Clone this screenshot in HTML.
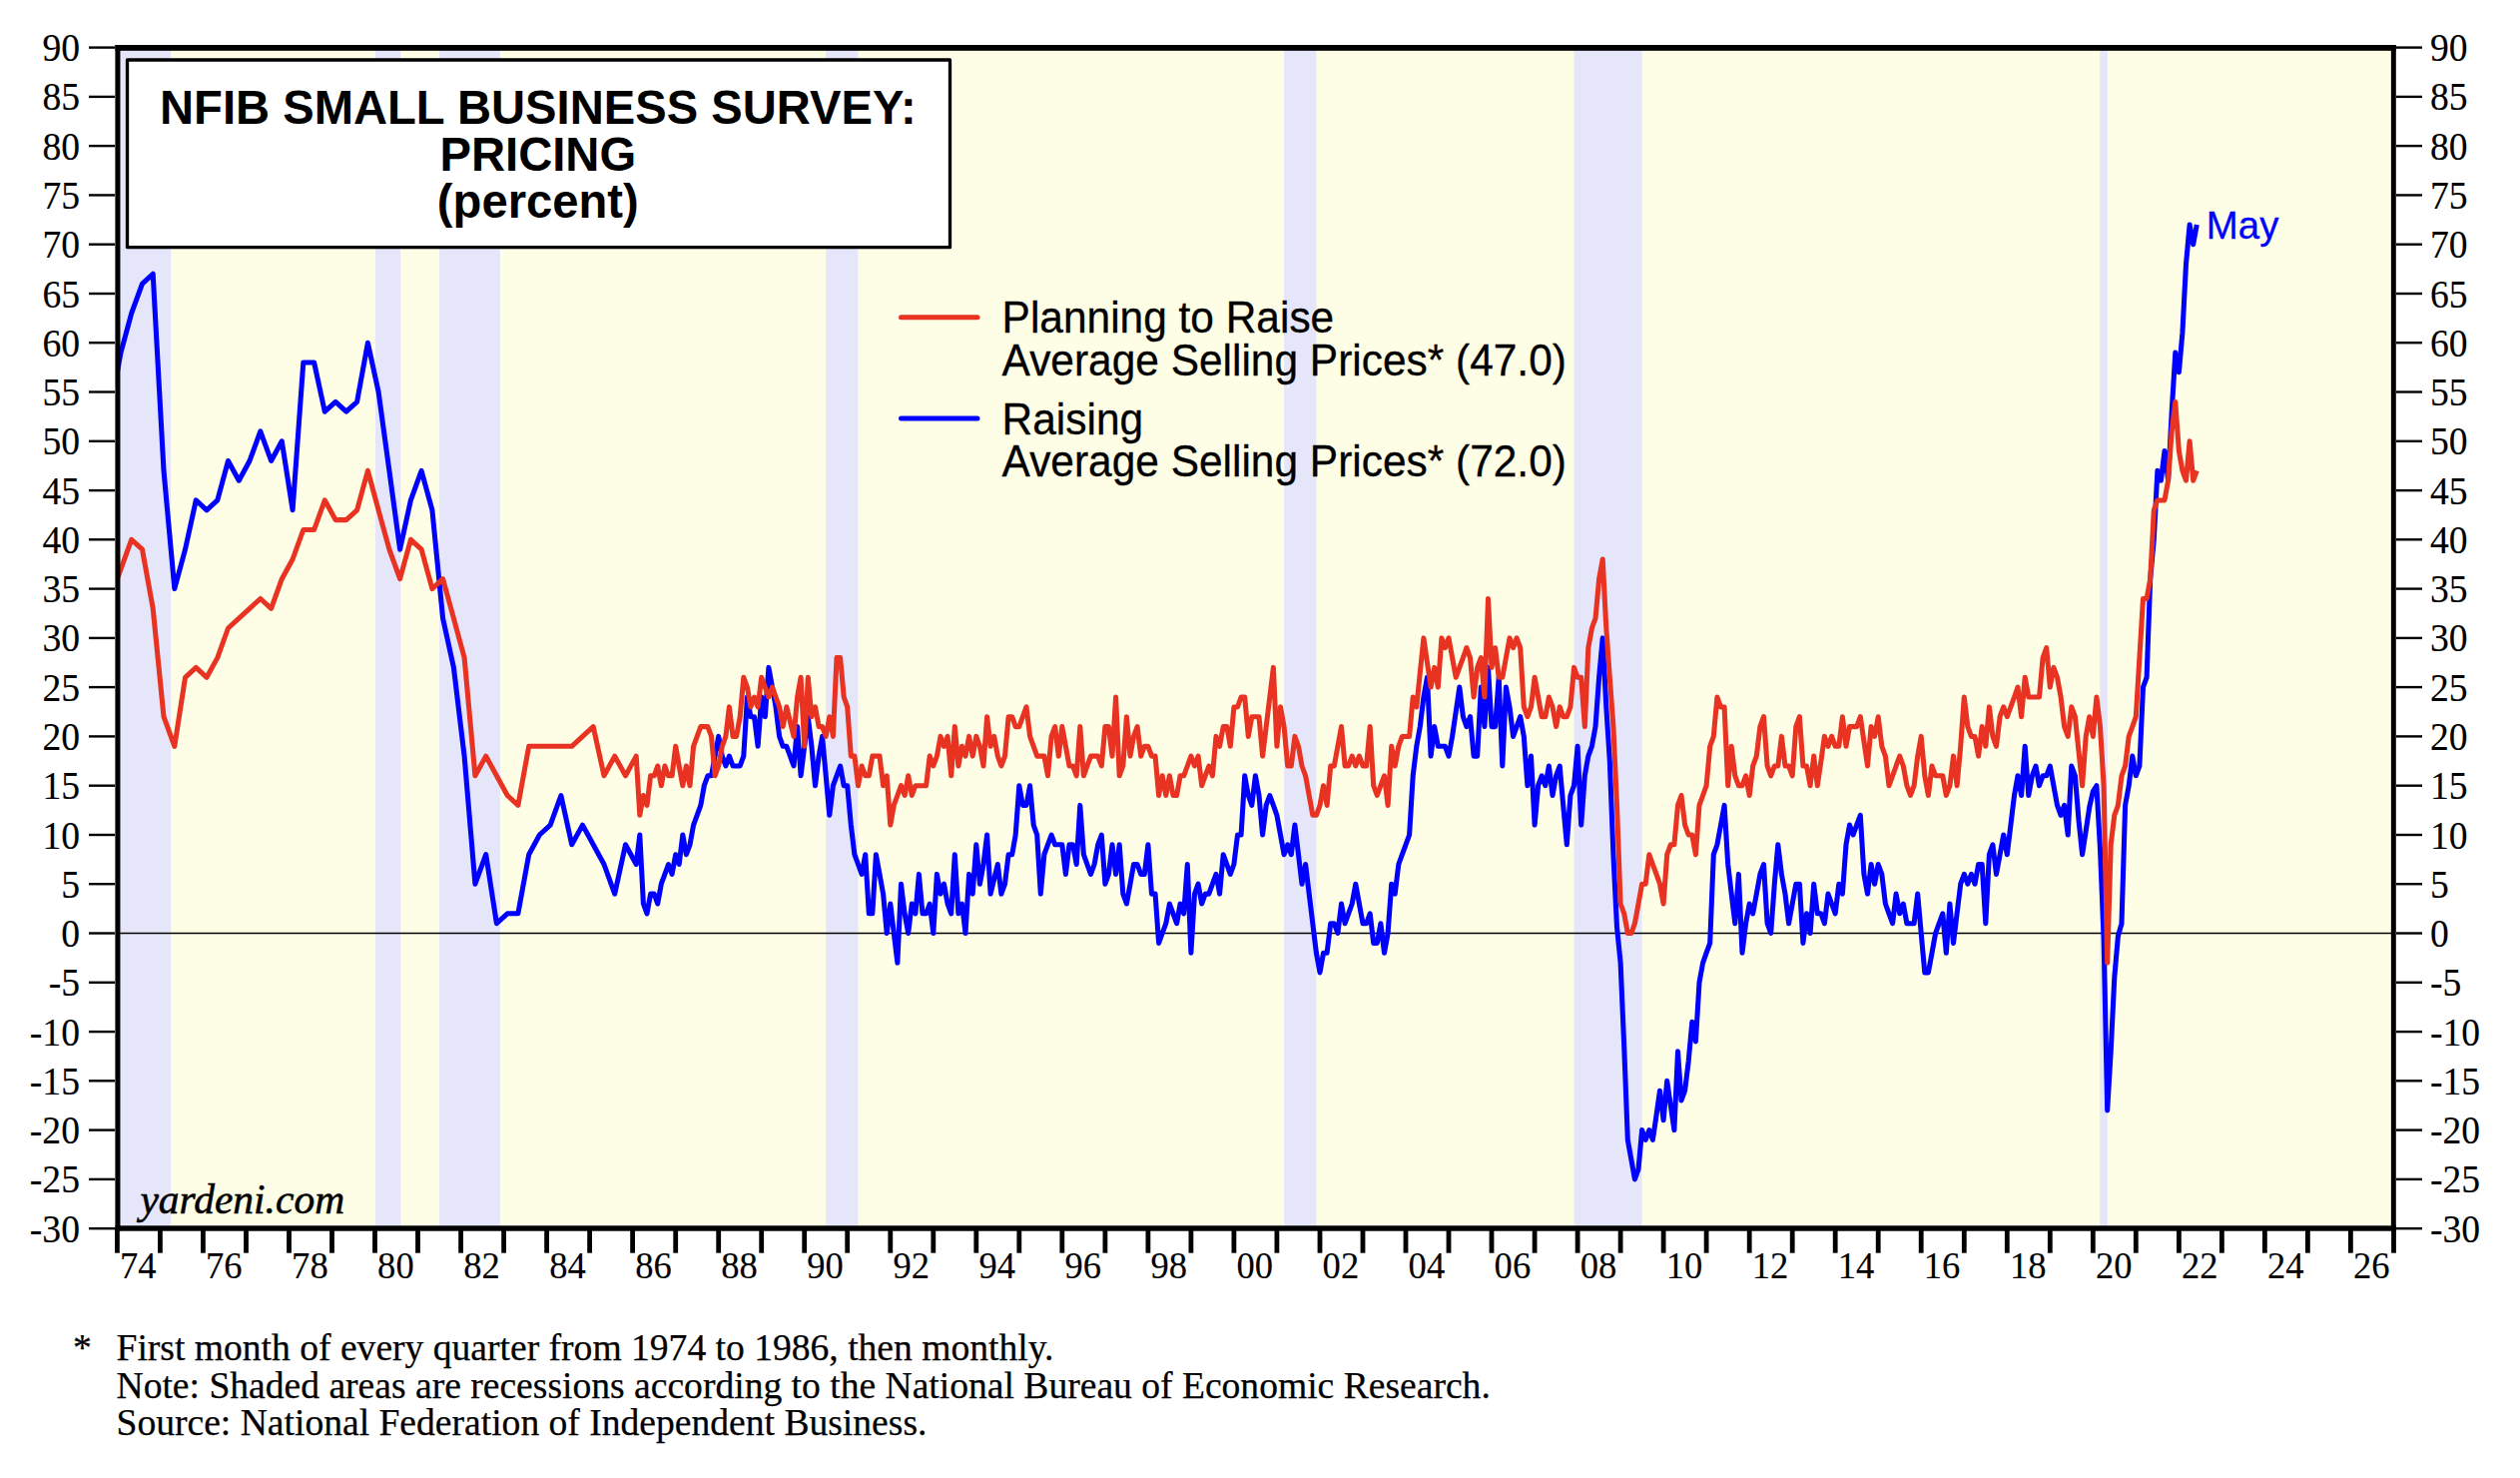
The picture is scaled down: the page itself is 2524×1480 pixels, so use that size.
<!DOCTYPE html>
<html><head><meta charset="utf-8"><title>NFIB Small Business Survey: Pricing</title>
<style>html,body{margin:0;padding:0;background:#fff}svg{display:block}.ser{font-family:"Liberation Serif",serif;fill:#000}.san{font-family:"Liberation Sans",sans-serif;fill:#000}.sk{stroke:#000;stroke-width:0.25}.sk0{stroke:#000;stroke-width:0.12}.sk2{stroke:#000;stroke-width:0.3}</style></head><body>
<svg width="2524" height="1480" viewBox="0 0 2524 1480">
<rect x="0" y="0" width="2524" height="1480" fill="#fff"/>
<rect x="117.8" y="47.9" width="2279.6" height="1182.2" fill="#FEFEE6"/>
<rect x="117.8" y="47.9" width="53.4" height="1182.2" fill="#E6E6FA"/>
<rect x="376.0" y="47.9" width="25.2" height="1182.2" fill="#E6E6FA"/>
<rect x="440.1" y="47.9" width="60.9" height="1182.2" fill="#E6E6FA"/>
<rect x="827.2" y="47.9" width="32.3" height="1182.2" fill="#E6E6FA"/>
<rect x="1286.1" y="47.9" width="32.3" height="1182.2" fill="#E6E6FA"/>
<rect x="1576.5" y="47.9" width="68.1" height="1182.2" fill="#E6E6FA"/>
<rect x="2103.2" y="47.9" width="7.7" height="1182.2" fill="#E6E6FA"/>
<line x1="117.8" y1="934.5" x2="2397.3" y2="934.5" stroke="#000" stroke-width="1.3"/>
<clipPath id="cp"><rect x="117.4" y="50.8" width="2277.5" height="1176.5"/></clipPath>
<g clip-path="url(#cp)" fill="none" stroke-width="5.05" stroke-linejoin="round" stroke-linecap="butt">
<polyline stroke="#0000FF" points="110.2,412.2 121.0,353.1 131.7,313.7 142.5,284.1 153.2,274.3 164.0,471.3 174.8,589.6 185.5,550.2 196.3,500.9 207.0,510.8 217.8,500.9 228.5,461.5 239.3,481.2 250.0,461.5 260.8,431.9 271.6,461.5 282.3,441.8 293.1,510.8 303.8,362.9 314.6,362.9 325.3,412.2 336.1,402.4 346.8,412.2 357.6,402.4 368.4,343.2 379.1,392.5 389.9,471.3 400.6,550.2 411.4,500.9 422.1,471.3 432.9,510.8 443.6,619.2 454.4,668.4 465.1,757.1 475.9,885.2 486.7,855.7 497.4,924.7 508.2,914.8 518.9,914.8 529.7,855.7 540.4,836.0 551.2,826.1 561.9,796.5 572.7,845.8 583.5,826.1 594.2,845.8 605.0,865.5 615.7,895.1 626.5,845.8 637.2,865.5 640.8,836.0 644.4,905.0 648.0,914.8 651.6,895.1 655.2,895.1 658.7,905.0 662.3,885.2 665.9,875.4 669.5,865.5 673.1,875.4 676.7,855.7 680.2,865.5 683.8,836.0 687.4,855.7 691.0,845.8 694.6,826.1 698.2,816.3 701.8,806.4 705.3,786.7 708.9,776.8 712.5,776.8 716.1,757.1 719.7,737.4 723.3,757.1 726.9,767.0 730.4,757.1 734.0,767.0 737.6,767.0 741.2,767.0 744.8,757.1 748.4,698.0 751.9,717.7 755.5,717.7 759.1,747.3 762.7,698.0 766.3,717.7 769.9,668.4 773.5,688.1 777.0,707.9 780.6,737.4 784.2,747.3 787.8,747.3 791.4,757.1 795.0,767.0 798.6,727.6 802.1,776.8 805.7,747.3 809.3,717.7 812.9,747.3 816.5,786.7 820.1,757.1 823.6,737.4 827.2,776.8 830.8,816.3 834.4,786.7 838.0,776.8 841.6,767.0 845.2,786.7 848.7,786.7 852.3,826.1 855.9,855.7 859.5,865.5 863.1,875.4 866.7,855.7 870.3,914.8 873.8,914.8 877.4,855.7 881.0,875.4 884.6,895.1 888.2,934.5 891.8,905.0 895.3,934.5 898.9,964.1 902.5,885.2 906.1,914.8 909.7,934.5 913.3,905.0 916.9,914.8 920.4,875.4 924.0,914.8 927.6,914.8 931.2,905.0 934.8,934.5 938.4,875.4 942.0,895.1 945.5,885.2 949.1,905.0 952.7,914.8 956.3,855.7 959.9,914.8 963.5,905.0 967.0,934.5 970.6,875.4 974.2,895.1 977.8,845.8 981.4,885.2 985.0,865.5 988.6,836.0 992.1,895.1 995.7,880.3 999.3,865.5 1002.9,895.1 1006.5,885.2 1010.1,855.7 1013.7,855.7 1017.2,836.0 1020.8,786.7 1024.4,806.4 1028.0,806.4 1031.6,786.7 1035.2,826.1 1038.7,836.0 1042.3,895.1 1045.9,855.7 1049.5,845.8 1053.1,836.0 1056.7,845.8 1060.3,845.8 1063.8,845.8 1067.4,875.4 1071.0,845.8 1074.6,845.8 1078.2,865.5 1081.8,806.4 1085.4,855.7 1088.9,865.5 1092.5,875.4 1096.1,865.5 1099.7,845.8 1103.3,836.0 1106.9,885.2 1110.4,875.4 1114.0,845.8 1117.6,875.4 1121.2,845.8 1124.8,895.1 1128.4,905.0 1132.0,885.2 1135.5,865.5 1139.1,865.5 1142.7,875.4 1146.3,875.4 1149.9,845.8 1153.5,895.1 1157.1,895.1 1160.6,944.4 1164.2,934.5 1167.8,924.7 1171.4,905.0 1175.0,914.8 1178.6,924.7 1182.1,905.0 1185.7,914.8 1189.3,865.5 1192.9,954.2 1196.5,895.1 1200.1,885.2 1203.7,905.0 1207.2,895.1 1210.8,895.1 1214.4,885.2 1218.0,875.4 1221.6,895.1 1225.2,855.7 1228.8,865.5 1232.3,875.4 1235.9,865.5 1239.5,836.0 1243.1,836.0 1246.7,776.8 1250.3,796.5 1253.8,806.4 1257.4,776.8 1261.0,796.5 1264.6,836.0 1268.2,806.4 1271.8,796.5 1275.4,806.4 1278.9,816.3 1282.5,836.0 1286.1,855.7 1289.7,845.8 1293.3,855.7 1296.9,826.1 1300.5,855.7 1304.0,885.2 1307.6,865.5 1311.2,895.1 1314.8,924.7 1318.4,954.2 1322.0,973.9 1325.5,954.2 1329.1,954.2 1332.7,924.7 1336.3,924.7 1339.9,934.5 1343.5,905.0 1347.1,924.7 1350.6,914.8 1354.2,905.0 1357.8,885.2 1361.4,905.0 1365.0,924.7 1368.6,924.7 1372.2,914.8 1375.7,944.4 1379.3,944.4 1382.9,924.7 1386.5,954.2 1390.1,934.5 1393.7,885.2 1397.2,895.1 1400.8,865.5 1404.4,855.7 1408.0,845.8 1411.6,836.0 1415.2,776.8 1418.8,747.3 1422.3,727.6 1425.9,698.0 1429.5,678.3 1433.1,757.1 1436.7,727.6 1440.3,747.3 1443.9,747.3 1447.4,747.3 1451.0,757.1 1454.6,737.4 1458.2,712.8 1461.8,688.1 1465.4,717.7 1468.9,727.6 1472.5,717.7 1476.1,757.1 1479.7,757.1 1483.3,688.1 1486.9,727.6 1490.5,668.4 1494.0,727.6 1497.6,727.6 1501.2,678.3 1504.8,767.0 1508.4,688.1 1512.0,707.9 1515.6,737.4 1519.1,727.6 1522.7,717.7 1526.3,737.4 1529.9,786.7 1533.5,757.1 1537.1,826.1 1540.6,786.7 1544.2,776.8 1547.8,786.7 1551.4,767.0 1555.0,796.5 1558.6,776.8 1562.2,767.0 1565.7,806.4 1569.3,845.8 1572.9,796.5 1576.5,786.7 1580.1,747.3 1583.7,826.1 1587.3,776.8 1590.8,757.1 1594.4,747.3 1598.0,727.6 1601.6,678.3 1605.2,638.9 1608.8,707.9 1612.3,762.1 1615.9,855.7 1619.5,928.6 1623.1,964.1 1626.7,1047.8 1630.3,1141.5 1633.9,1161.2 1637.4,1180.9 1641.0,1171.0 1644.6,1131.6 1648.2,1141.5 1651.8,1131.6 1655.4,1141.5 1659.0,1116.8 1662.5,1092.2 1666.1,1121.8 1669.7,1082.3 1673.3,1107.0 1676.9,1131.6 1680.5,1052.8 1684.0,1102.0 1687.6,1092.2 1691.2,1062.6 1694.8,1023.2 1698.4,1042.9 1702.0,983.8 1705.6,964.1 1709.1,954.2 1712.7,944.4 1716.3,855.7 1719.9,845.8 1723.5,826.1 1727.1,806.4 1730.7,865.5 1734.2,895.1 1737.8,924.7 1741.4,875.4 1745.0,954.2 1748.6,924.7 1752.2,905.0 1755.7,914.8 1759.3,895.1 1762.9,875.4 1766.5,865.5 1770.1,924.7 1773.7,934.5 1777.3,885.2 1780.8,845.8 1784.4,875.4 1788.0,895.1 1791.6,924.7 1795.2,905.0 1798.8,885.2 1802.4,885.2 1805.9,944.4 1809.5,914.8 1813.1,934.5 1816.7,885.2 1820.3,914.8 1823.9,914.8 1827.4,924.7 1831.0,895.1 1834.6,905.0 1838.2,914.8 1841.8,885.2 1845.4,895.1 1849.0,845.8 1852.5,826.1 1856.1,836.0 1859.7,826.1 1863.3,816.3 1866.9,875.4 1870.5,895.1 1874.1,865.5 1877.6,885.2 1881.2,865.5 1884.8,875.4 1888.4,905.0 1892.0,914.8 1895.6,924.7 1899.1,895.1 1902.7,914.8 1906.3,905.0 1909.9,924.7 1913.5,924.7 1917.1,924.7 1920.7,895.1 1924.2,934.5 1927.8,973.9 1931.4,973.9 1935.0,954.2 1938.6,934.5 1942.2,924.7 1945.8,914.8 1949.3,954.2 1952.9,905.0 1956.5,944.4 1960.1,914.8 1963.7,885.2 1967.3,875.4 1970.8,885.2 1974.4,875.4 1978.0,885.2 1981.6,865.5 1985.2,865.5 1988.8,924.7 1992.4,855.7 1995.9,845.8 1999.5,875.4 2003.1,855.7 2006.7,836.0 2010.3,855.7 2013.9,826.1 2017.5,796.5 2021.0,776.8 2024.6,796.5 2028.2,747.3 2031.8,796.5 2035.4,776.8 2039.0,767.0 2042.5,786.7 2046.1,776.8 2049.7,776.8 2053.3,767.0 2056.9,786.7 2060.5,806.4 2064.1,816.3 2067.6,806.4 2071.2,836.0 2074.8,767.0 2078.4,776.8 2082.0,821.2 2085.6,855.7 2089.2,832.0 2092.7,808.4 2096.3,792.6 2099.9,786.7 2103.5,850.7 2107.1,939.4 2110.7,1111.9 2114.2,1052.8 2117.8,978.9 2121.4,937.5 2125.0,924.7 2128.6,806.4 2132.2,786.7 2135.8,757.1 2139.3,776.8 2142.9,767.0 2146.5,688.1 2150.1,678.3 2153.7,579.7 2157.3,540.3 2160.9,471.3 2164.4,481.2 2168.0,451.6 2171.6,481.2 2175.2,412.2 2178.8,353.1 2182.4,372.8 2185.9,333.4 2189.5,264.4 2193.1,225.0 2196.7,244.7 2200.3,225.0"/>
<polyline stroke="#E83323" points="110.2,599.5 121.0,569.9 131.7,540.3 142.5,550.2 153.2,609.3 164.0,717.7 174.8,747.3 185.5,678.3 196.3,668.4 207.0,678.3 217.8,658.6 228.5,629.0 239.3,619.2 250.0,609.3 260.8,599.5 271.6,609.3 282.3,579.7 293.1,560.0 303.8,530.5 314.6,530.5 325.3,500.9 336.1,520.6 346.8,520.6 357.6,510.8 368.4,471.3 379.1,510.8 389.9,550.2 400.6,579.7 411.4,540.3 422.1,550.2 432.9,589.6 443.6,579.7 454.4,619.2 465.1,658.6 475.9,776.8 486.7,757.1 497.4,776.8 508.2,796.5 518.9,806.4 529.7,747.3 540.4,747.3 551.2,747.3 561.9,747.3 572.7,747.3 583.5,737.4 594.2,727.6 605.0,776.8 615.7,757.1 626.5,776.8 637.2,757.1 640.8,816.3 644.4,796.5 648.0,806.4 651.6,776.8 655.2,776.8 658.7,767.0 662.3,786.7 665.9,767.0 669.5,776.8 673.1,776.8 676.7,747.3 680.2,767.0 683.8,786.7 687.4,767.0 691.0,786.7 694.6,747.3 698.2,737.4 701.8,727.6 705.3,727.6 708.9,727.6 712.5,737.4 716.1,776.8 719.7,767.0 723.3,747.3 726.9,737.4 730.4,707.9 734.0,737.4 737.6,737.4 741.2,717.7 744.8,678.3 748.4,688.1 751.9,707.9 755.5,698.0 759.1,707.9 762.7,678.3 766.3,688.1 769.9,698.0 773.5,688.1 777.0,698.0 780.6,707.9 784.2,727.6 787.8,707.9 791.4,722.6 795.0,737.4 798.6,698.0 802.1,678.3 805.7,747.3 809.3,678.3 812.9,717.7 816.5,707.9 820.1,727.6 823.6,727.6 827.2,737.4 830.8,717.7 834.4,737.4 838.0,658.6 841.6,658.6 845.2,698.0 848.7,707.9 852.3,757.1 855.9,757.1 859.5,786.7 863.1,767.0 866.7,776.8 870.3,776.8 873.8,757.1 877.4,757.1 881.0,757.1 884.6,786.7 888.2,776.8 891.8,826.1 895.3,806.4 898.9,796.5 902.5,786.7 906.1,796.5 909.7,776.8 913.3,796.5 916.9,786.7 920.4,786.7 924.0,786.7 927.6,786.7 931.2,757.1 934.8,767.0 938.4,757.1 942.0,737.4 945.5,747.3 949.1,737.4 952.7,776.8 956.3,727.6 959.9,767.0 963.5,747.3 967.0,757.1 970.6,737.4 974.2,757.1 977.8,737.4 981.4,747.3 985.0,767.0 988.6,717.7 992.1,747.3 995.7,737.4 999.3,757.1 1002.9,767.0 1006.5,757.1 1010.1,717.7 1013.7,717.7 1017.2,727.6 1020.8,727.6 1024.4,717.7 1028.0,707.9 1031.6,737.4 1035.2,747.3 1038.7,757.1 1042.3,757.1 1045.9,757.1 1049.5,776.8 1053.1,737.4 1056.7,727.6 1060.3,757.1 1063.8,727.6 1067.4,747.3 1071.0,767.0 1074.6,767.0 1078.2,776.8 1081.8,727.6 1085.4,776.8 1088.9,767.0 1092.5,757.1 1096.1,757.1 1099.7,757.1 1103.3,767.0 1106.9,727.6 1110.4,727.6 1114.0,757.1 1117.6,698.0 1121.2,776.8 1124.8,767.0 1128.4,717.7 1132.0,757.1 1135.5,737.4 1139.1,727.6 1142.7,757.1 1146.3,747.3 1149.9,747.3 1153.5,757.1 1157.1,757.1 1160.6,796.5 1164.2,776.8 1167.8,796.5 1171.4,776.8 1175.0,796.5 1178.6,796.5 1182.1,776.8 1185.7,776.8 1189.3,767.0 1192.9,757.1 1196.5,767.0 1200.1,757.1 1203.7,786.7 1207.2,776.8 1210.8,767.0 1214.4,776.8 1218.0,737.4 1221.6,747.3 1225.2,727.6 1228.8,727.6 1232.3,747.3 1235.9,707.9 1239.5,707.9 1243.1,698.0 1246.7,698.0 1250.3,737.4 1253.8,717.7 1257.4,717.7 1261.0,717.7 1264.6,757.1 1268.2,727.6 1271.8,698.0 1275.4,668.4 1278.9,747.3 1282.5,707.9 1286.1,727.6 1289.7,767.0 1293.3,767.0 1296.9,737.4 1300.5,747.3 1304.0,767.0 1307.6,776.8 1311.2,796.5 1314.8,816.3 1318.4,816.3 1322.0,806.4 1325.5,786.7 1329.1,806.4 1332.7,767.0 1336.3,767.0 1339.9,747.3 1343.5,727.6 1347.1,767.0 1350.6,767.0 1354.2,757.1 1357.8,767.0 1361.4,757.1 1365.0,767.0 1368.6,767.0 1372.2,727.6 1375.7,786.7 1379.3,796.5 1382.9,786.7 1386.5,776.8 1390.1,806.4 1393.7,747.3 1397.2,767.0 1400.8,747.3 1404.4,737.4 1408.0,737.4 1411.6,737.4 1415.2,698.0 1418.8,707.9 1422.3,673.4 1425.9,638.9 1429.5,663.5 1433.1,688.1 1436.7,668.4 1440.3,688.1 1443.9,638.9 1447.4,648.7 1451.0,638.9 1454.6,658.6 1458.2,678.3 1461.8,668.4 1465.4,658.6 1468.9,648.7 1472.5,658.6 1476.1,698.0 1479.7,668.4 1483.3,658.6 1486.9,698.0 1490.5,599.5 1494.0,668.4 1497.6,648.7 1501.2,678.3 1504.8,678.3 1508.4,658.6 1512.0,638.9 1515.6,648.7 1519.1,638.9 1522.7,648.7 1526.3,707.9 1529.9,717.7 1533.5,707.9 1537.1,678.3 1540.6,698.0 1544.2,717.7 1547.8,717.7 1551.4,698.0 1555.0,707.9 1558.6,727.6 1562.2,707.9 1565.7,717.7 1569.3,717.7 1572.9,707.9 1576.5,668.4 1580.1,678.3 1583.7,678.3 1587.3,727.6 1590.8,648.7 1594.4,629.0 1598.0,619.2 1601.6,579.7 1605.2,560.0 1608.8,629.0 1612.3,678.3 1615.9,727.6 1619.5,806.4 1623.1,905.0 1626.7,914.8 1630.3,934.5 1633.9,934.5 1637.4,924.7 1641.0,905.0 1644.6,885.2 1648.2,885.2 1651.8,855.7 1655.4,865.5 1659.0,875.4 1662.5,885.2 1666.1,905.0 1669.7,855.7 1673.3,845.8 1676.9,845.8 1680.5,806.4 1684.0,796.5 1687.6,826.1 1691.2,836.0 1694.8,836.0 1698.4,855.7 1702.0,806.4 1705.6,796.5 1709.1,786.7 1712.7,747.3 1716.3,737.4 1719.9,698.0 1723.5,707.9 1727.1,707.9 1730.7,786.7 1734.2,747.3 1737.8,776.8 1741.4,786.7 1745.0,786.7 1748.6,776.8 1752.2,796.5 1755.7,767.0 1759.3,757.1 1762.9,727.6 1766.5,717.7 1770.1,767.0 1773.7,776.8 1777.3,767.0 1780.8,767.0 1784.4,737.4 1788.0,767.0 1791.6,767.0 1795.2,776.8 1798.8,727.6 1802.4,717.7 1805.9,767.0 1809.5,767.0 1813.1,786.7 1816.7,757.1 1820.3,786.7 1823.9,762.1 1827.4,737.4 1831.0,747.3 1834.6,737.4 1838.2,747.3 1841.8,747.3 1845.4,717.7 1849.0,747.3 1852.5,727.6 1856.1,727.6 1859.7,727.6 1863.3,717.7 1866.9,742.3 1870.5,767.0 1874.1,727.6 1877.6,737.4 1881.2,717.7 1884.8,747.3 1888.4,757.1 1892.0,786.7 1895.6,776.8 1899.1,767.0 1902.7,757.1 1906.3,767.0 1909.9,786.7 1913.5,796.5 1917.1,786.7 1920.7,757.1 1924.2,737.4 1927.8,776.8 1931.4,796.5 1935.0,767.0 1938.6,776.8 1942.2,776.8 1945.8,776.8 1949.3,796.5 1952.9,786.7 1956.5,757.1 1960.1,786.7 1963.7,747.3 1967.3,698.0 1970.8,727.6 1974.4,737.4 1978.0,737.4 1981.6,757.1 1985.2,727.6 1988.8,747.3 1992.4,707.9 1995.9,737.4 1999.5,747.3 2003.1,717.7 2006.7,707.9 2010.3,717.7 2013.9,707.9 2017.5,698.0 2021.0,688.1 2024.6,717.7 2028.2,678.3 2031.8,698.0 2035.4,698.0 2039.0,698.0 2042.5,698.0 2046.1,658.6 2049.7,648.7 2053.3,688.1 2056.9,668.4 2060.5,678.3 2064.1,698.0 2067.6,727.6 2071.2,737.4 2074.8,707.9 2078.4,717.7 2082.0,752.2 2085.6,786.7 2089.2,737.4 2092.7,717.7 2096.3,737.4 2099.9,698.0 2103.5,727.6 2107.1,786.7 2110.7,964.1 2114.2,845.8 2117.8,816.3 2121.4,806.4 2125.0,776.8 2128.6,767.0 2132.2,737.4 2135.8,727.6 2139.3,717.7 2142.9,658.6 2146.5,599.5 2150.1,599.5 2153.7,579.7 2157.3,510.8 2160.9,500.9 2164.4,500.9 2168.0,500.9 2171.6,481.2 2175.2,431.9 2178.8,402.4 2182.4,451.6 2185.9,471.3 2189.5,481.2 2193.1,441.8 2196.7,481.2 2200.3,471.3"/>
</g>
<rect x="115.4" y="45.0" width="2284.4" height="5.8" fill="#000"/>
<rect x="115.4" y="1227.3" width="2284.4" height="5.4" fill="#000"/>
<rect x="115.4" y="45.0" width="5.05" height="1187.7" fill="#000"/>
<rect x="2394.85" y="45.0" width="4.95" height="1187.7" fill="#000"/>
<line x1="89.0" y1="1230.2" x2="115.0" y2="1230.2" stroke="#000" stroke-width="2.4"/>
<line x1="2400.0" y1="1230.2" x2="2426.0" y2="1230.2" stroke="#000" stroke-width="2.4"/>
<text class="ser sk0" transform="translate(80,1243.7) scale(0.965,1)" font-size="39" text-anchor="end">-30</text>
<text class="ser sk0" transform="translate(2433.9,1243.7) scale(0.965,1)" font-size="39" text-anchor="start">-30</text>
<line x1="89.0" y1="1180.9" x2="115.0" y2="1180.9" stroke="#000" stroke-width="2.4"/>
<line x1="2400.0" y1="1180.9" x2="2426.0" y2="1180.9" stroke="#000" stroke-width="2.4"/>
<text class="ser sk0" transform="translate(80,1194.4) scale(0.965,1)" font-size="39" text-anchor="end">-25</text>
<text class="ser sk0" transform="translate(2433.9,1194.4) scale(0.965,1)" font-size="39" text-anchor="start">-25</text>
<line x1="89.0" y1="1131.6" x2="115.0" y2="1131.6" stroke="#000" stroke-width="2.4"/>
<line x1="2400.0" y1="1131.6" x2="2426.0" y2="1131.6" stroke="#000" stroke-width="2.4"/>
<text class="ser sk0" transform="translate(80,1145.1) scale(0.965,1)" font-size="39" text-anchor="end">-20</text>
<text class="ser sk0" transform="translate(2433.9,1145.1) scale(0.965,1)" font-size="39" text-anchor="start">-20</text>
<line x1="89.0" y1="1082.3" x2="115.0" y2="1082.3" stroke="#000" stroke-width="2.4"/>
<line x1="2400.0" y1="1082.3" x2="2426.0" y2="1082.3" stroke="#000" stroke-width="2.4"/>
<text class="ser sk0" transform="translate(80,1095.8) scale(0.965,1)" font-size="39" text-anchor="end">-15</text>
<text class="ser sk0" transform="translate(2433.9,1095.8) scale(0.965,1)" font-size="39" text-anchor="start">-15</text>
<line x1="89.0" y1="1033.1" x2="115.0" y2="1033.1" stroke="#000" stroke-width="2.4"/>
<line x1="2400.0" y1="1033.1" x2="2426.0" y2="1033.1" stroke="#000" stroke-width="2.4"/>
<text class="ser sk0" transform="translate(80,1046.6) scale(0.965,1)" font-size="39" text-anchor="end">-10</text>
<text class="ser sk0" transform="translate(2433.9,1046.6) scale(0.965,1)" font-size="39" text-anchor="start">-10</text>
<line x1="89.0" y1="983.8" x2="115.0" y2="983.8" stroke="#000" stroke-width="2.4"/>
<line x1="2400.0" y1="983.8" x2="2426.0" y2="983.8" stroke="#000" stroke-width="2.4"/>
<text class="ser sk0" transform="translate(80,997.3) scale(0.965,1)" font-size="39" text-anchor="end">-5</text>
<text class="ser sk0" transform="translate(2433.9,997.3) scale(0.965,1)" font-size="39" text-anchor="start">-5</text>
<line x1="89.0" y1="934.5" x2="115.0" y2="934.5" stroke="#000" stroke-width="2.4"/>
<line x1="2400.0" y1="934.5" x2="2426.0" y2="934.5" stroke="#000" stroke-width="2.4"/>
<text class="ser sk0" transform="translate(80,948.0) scale(0.965,1)" font-size="39" text-anchor="end">0</text>
<text class="ser sk0" transform="translate(2433.9,948.0) scale(0.965,1)" font-size="39" text-anchor="start">0</text>
<line x1="89.0" y1="885.2" x2="115.0" y2="885.2" stroke="#000" stroke-width="2.4"/>
<line x1="2400.0" y1="885.2" x2="2426.0" y2="885.2" stroke="#000" stroke-width="2.4"/>
<text class="ser sk0" transform="translate(80,898.7) scale(0.965,1)" font-size="39" text-anchor="end">5</text>
<text class="ser sk0" transform="translate(2433.9,898.7) scale(0.965,1)" font-size="39" text-anchor="start">5</text>
<line x1="89.0" y1="836.0" x2="115.0" y2="836.0" stroke="#000" stroke-width="2.4"/>
<line x1="2400.0" y1="836.0" x2="2426.0" y2="836.0" stroke="#000" stroke-width="2.4"/>
<text class="ser sk0" transform="translate(80,849.5) scale(0.965,1)" font-size="39" text-anchor="end">10</text>
<text class="ser sk0" transform="translate(2433.9,849.5) scale(0.965,1)" font-size="39" text-anchor="start">10</text>
<line x1="89.0" y1="786.7" x2="115.0" y2="786.7" stroke="#000" stroke-width="2.4"/>
<line x1="2400.0" y1="786.7" x2="2426.0" y2="786.7" stroke="#000" stroke-width="2.4"/>
<text class="ser sk0" transform="translate(80,800.2) scale(0.965,1)" font-size="39" text-anchor="end">15</text>
<text class="ser sk0" transform="translate(2433.9,800.2) scale(0.965,1)" font-size="39" text-anchor="start">15</text>
<line x1="89.0" y1="737.4" x2="115.0" y2="737.4" stroke="#000" stroke-width="2.4"/>
<line x1="2400.0" y1="737.4" x2="2426.0" y2="737.4" stroke="#000" stroke-width="2.4"/>
<text class="ser sk0" transform="translate(80,750.9) scale(0.965,1)" font-size="39" text-anchor="end">20</text>
<text class="ser sk0" transform="translate(2433.9,750.9) scale(0.965,1)" font-size="39" text-anchor="start">20</text>
<line x1="89.0" y1="688.1" x2="115.0" y2="688.1" stroke="#000" stroke-width="2.4"/>
<line x1="2400.0" y1="688.1" x2="2426.0" y2="688.1" stroke="#000" stroke-width="2.4"/>
<text class="ser sk0" transform="translate(80,701.6) scale(0.965,1)" font-size="39" text-anchor="end">25</text>
<text class="ser sk0" transform="translate(2433.9,701.6) scale(0.965,1)" font-size="39" text-anchor="start">25</text>
<line x1="89.0" y1="638.9" x2="115.0" y2="638.9" stroke="#000" stroke-width="2.4"/>
<line x1="2400.0" y1="638.9" x2="2426.0" y2="638.9" stroke="#000" stroke-width="2.4"/>
<text class="ser sk0" transform="translate(80,652.4) scale(0.965,1)" font-size="39" text-anchor="end">30</text>
<text class="ser sk0" transform="translate(2433.9,652.4) scale(0.965,1)" font-size="39" text-anchor="start">30</text>
<line x1="89.0" y1="589.6" x2="115.0" y2="589.6" stroke="#000" stroke-width="2.4"/>
<line x1="2400.0" y1="589.6" x2="2426.0" y2="589.6" stroke="#000" stroke-width="2.4"/>
<text class="ser sk0" transform="translate(80,603.1) scale(0.965,1)" font-size="39" text-anchor="end">35</text>
<text class="ser sk0" transform="translate(2433.9,603.1) scale(0.965,1)" font-size="39" text-anchor="start">35</text>
<line x1="89.0" y1="540.3" x2="115.0" y2="540.3" stroke="#000" stroke-width="2.4"/>
<line x1="2400.0" y1="540.3" x2="2426.0" y2="540.3" stroke="#000" stroke-width="2.4"/>
<text class="ser sk0" transform="translate(80,553.8) scale(0.965,1)" font-size="39" text-anchor="end">40</text>
<text class="ser sk0" transform="translate(2433.9,553.8) scale(0.965,1)" font-size="39" text-anchor="start">40</text>
<line x1="89.0" y1="491.1" x2="115.0" y2="491.1" stroke="#000" stroke-width="2.4"/>
<line x1="2400.0" y1="491.1" x2="2426.0" y2="491.1" stroke="#000" stroke-width="2.4"/>
<text class="ser sk0" transform="translate(80,504.6) scale(0.965,1)" font-size="39" text-anchor="end">45</text>
<text class="ser sk0" transform="translate(2433.9,504.6) scale(0.965,1)" font-size="39" text-anchor="start">45</text>
<line x1="89.0" y1="441.8" x2="115.0" y2="441.8" stroke="#000" stroke-width="2.4"/>
<line x1="2400.0" y1="441.8" x2="2426.0" y2="441.8" stroke="#000" stroke-width="2.4"/>
<text class="ser sk0" transform="translate(80,455.3) scale(0.965,1)" font-size="39" text-anchor="end">50</text>
<text class="ser sk0" transform="translate(2433.9,455.3) scale(0.965,1)" font-size="39" text-anchor="start">50</text>
<line x1="89.0" y1="392.5" x2="115.0" y2="392.5" stroke="#000" stroke-width="2.4"/>
<line x1="2400.0" y1="392.5" x2="2426.0" y2="392.5" stroke="#000" stroke-width="2.4"/>
<text class="ser sk0" transform="translate(80,406.0) scale(0.965,1)" font-size="39" text-anchor="end">55</text>
<text class="ser sk0" transform="translate(2433.9,406.0) scale(0.965,1)" font-size="39" text-anchor="start">55</text>
<line x1="89.0" y1="343.2" x2="115.0" y2="343.2" stroke="#000" stroke-width="2.4"/>
<line x1="2400.0" y1="343.2" x2="2426.0" y2="343.2" stroke="#000" stroke-width="2.4"/>
<text class="ser sk0" transform="translate(80,356.7) scale(0.965,1)" font-size="39" text-anchor="end">60</text>
<text class="ser sk0" transform="translate(2433.9,356.7) scale(0.965,1)" font-size="39" text-anchor="start">60</text>
<line x1="89.0" y1="294.0" x2="115.0" y2="294.0" stroke="#000" stroke-width="2.4"/>
<line x1="2400.0" y1="294.0" x2="2426.0" y2="294.0" stroke="#000" stroke-width="2.4"/>
<text class="ser sk0" transform="translate(80,307.5) scale(0.965,1)" font-size="39" text-anchor="end">65</text>
<text class="ser sk0" transform="translate(2433.9,307.5) scale(0.965,1)" font-size="39" text-anchor="start">65</text>
<line x1="89.0" y1="244.7" x2="115.0" y2="244.7" stroke="#000" stroke-width="2.4"/>
<line x1="2400.0" y1="244.7" x2="2426.0" y2="244.7" stroke="#000" stroke-width="2.4"/>
<text class="ser sk0" transform="translate(80,258.2) scale(0.965,1)" font-size="39" text-anchor="end">70</text>
<text class="ser sk0" transform="translate(2433.9,258.2) scale(0.965,1)" font-size="39" text-anchor="start">70</text>
<line x1="89.0" y1="195.4" x2="115.0" y2="195.4" stroke="#000" stroke-width="2.4"/>
<line x1="2400.0" y1="195.4" x2="2426.0" y2="195.4" stroke="#000" stroke-width="2.4"/>
<text class="ser sk0" transform="translate(80,208.9) scale(0.965,1)" font-size="39" text-anchor="end">75</text>
<text class="ser sk0" transform="translate(2433.9,208.9) scale(0.965,1)" font-size="39" text-anchor="start">75</text>
<line x1="89.0" y1="146.1" x2="115.0" y2="146.1" stroke="#000" stroke-width="2.4"/>
<line x1="2400.0" y1="146.1" x2="2426.0" y2="146.1" stroke="#000" stroke-width="2.4"/>
<text class="ser sk0" transform="translate(80,159.6) scale(0.965,1)" font-size="39" text-anchor="end">80</text>
<text class="ser sk0" transform="translate(2433.9,159.6) scale(0.965,1)" font-size="39" text-anchor="start">80</text>
<line x1="89.0" y1="96.9" x2="115.0" y2="96.9" stroke="#000" stroke-width="2.4"/>
<line x1="2400.0" y1="96.9" x2="2426.0" y2="96.9" stroke="#000" stroke-width="2.4"/>
<text class="ser sk0" transform="translate(80,110.4) scale(0.965,1)" font-size="39" text-anchor="end">85</text>
<text class="ser sk0" transform="translate(2433.9,110.4) scale(0.965,1)" font-size="39" text-anchor="start">85</text>
<line x1="89.0" y1="47.6" x2="115.0" y2="47.6" stroke="#000" stroke-width="2.4"/>
<line x1="2400.0" y1="47.6" x2="2426.0" y2="47.6" stroke="#000" stroke-width="2.4"/>
<text class="ser sk0" transform="translate(80,61.1) scale(0.965,1)" font-size="39" text-anchor="end">90</text>
<text class="ser sk0" transform="translate(2433.9,61.1) scale(0.965,1)" font-size="39" text-anchor="start">90</text>
<line x1="117.4" y1="1230.1" x2="117.4" y2="1254.7" stroke="#000" stroke-width="4.8"/>
<text class="ser sk0" transform="translate(120.0,1279.6) scale(0.95,1)" font-size="38.5">74</text>
<line x1="160.4" y1="1230.1" x2="160.4" y2="1254.7" stroke="#000" stroke-width="4.8"/>
<line x1="203.4" y1="1230.1" x2="203.4" y2="1254.7" stroke="#000" stroke-width="4.8"/>
<text class="ser sk0" transform="translate(206.0,1279.6) scale(0.95,1)" font-size="38.5">76</text>
<line x1="246.5" y1="1230.1" x2="246.5" y2="1254.7" stroke="#000" stroke-width="4.8"/>
<line x1="289.5" y1="1230.1" x2="289.5" y2="1254.7" stroke="#000" stroke-width="4.8"/>
<text class="ser sk0" transform="translate(292.1,1279.6) scale(0.95,1)" font-size="38.5">78</text>
<line x1="332.5" y1="1230.1" x2="332.5" y2="1254.7" stroke="#000" stroke-width="4.8"/>
<line x1="375.5" y1="1230.1" x2="375.5" y2="1254.7" stroke="#000" stroke-width="4.8"/>
<text class="ser sk0" transform="translate(378.1,1279.6) scale(0.95,1)" font-size="38.5">80</text>
<line x1="418.5" y1="1230.1" x2="418.5" y2="1254.7" stroke="#000" stroke-width="4.8"/>
<line x1="461.6" y1="1230.1" x2="461.6" y2="1254.7" stroke="#000" stroke-width="4.8"/>
<text class="ser sk0" transform="translate(464.2,1279.6) scale(0.95,1)" font-size="38.5">82</text>
<line x1="504.6" y1="1230.1" x2="504.6" y2="1254.7" stroke="#000" stroke-width="4.8"/>
<line x1="547.6" y1="1230.1" x2="547.6" y2="1254.7" stroke="#000" stroke-width="4.8"/>
<text class="ser sk0" transform="translate(550.2,1279.6) scale(0.95,1)" font-size="38.5">84</text>
<line x1="590.6" y1="1230.1" x2="590.6" y2="1254.7" stroke="#000" stroke-width="4.8"/>
<line x1="633.6" y1="1230.1" x2="633.6" y2="1254.7" stroke="#000" stroke-width="4.8"/>
<text class="ser sk0" transform="translate(636.2,1279.6) scale(0.95,1)" font-size="38.5">86</text>
<line x1="676.7" y1="1230.1" x2="676.7" y2="1254.7" stroke="#000" stroke-width="4.8"/>
<line x1="719.7" y1="1230.1" x2="719.7" y2="1254.7" stroke="#000" stroke-width="4.8"/>
<text class="ser sk0" transform="translate(722.3,1279.6) scale(0.95,1)" font-size="38.5">88</text>
<line x1="762.7" y1="1230.1" x2="762.7" y2="1254.7" stroke="#000" stroke-width="4.8"/>
<line x1="805.7" y1="1230.1" x2="805.7" y2="1254.7" stroke="#000" stroke-width="4.8"/>
<text class="ser sk0" transform="translate(808.3,1279.6) scale(0.95,1)" font-size="38.5">90</text>
<line x1="848.7" y1="1230.1" x2="848.7" y2="1254.7" stroke="#000" stroke-width="4.8"/>
<line x1="891.8" y1="1230.1" x2="891.8" y2="1254.7" stroke="#000" stroke-width="4.8"/>
<text class="ser sk0" transform="translate(894.4,1279.6) scale(0.95,1)" font-size="38.5">92</text>
<line x1="934.8" y1="1230.1" x2="934.8" y2="1254.7" stroke="#000" stroke-width="4.8"/>
<line x1="977.8" y1="1230.1" x2="977.8" y2="1254.7" stroke="#000" stroke-width="4.8"/>
<text class="ser sk0" transform="translate(980.4,1279.6) scale(0.95,1)" font-size="38.5">94</text>
<line x1="1020.8" y1="1230.1" x2="1020.8" y2="1254.7" stroke="#000" stroke-width="4.8"/>
<line x1="1063.8" y1="1230.1" x2="1063.8" y2="1254.7" stroke="#000" stroke-width="4.8"/>
<text class="ser sk0" transform="translate(1066.4,1279.6) scale(0.95,1)" font-size="38.5">96</text>
<line x1="1106.9" y1="1230.1" x2="1106.9" y2="1254.7" stroke="#000" stroke-width="4.8"/>
<line x1="1149.9" y1="1230.1" x2="1149.9" y2="1254.7" stroke="#000" stroke-width="4.8"/>
<text class="ser sk0" transform="translate(1152.5,1279.6) scale(0.95,1)" font-size="38.5">98</text>
<line x1="1192.9" y1="1230.1" x2="1192.9" y2="1254.7" stroke="#000" stroke-width="4.8"/>
<line x1="1235.9" y1="1230.1" x2="1235.9" y2="1254.7" stroke="#000" stroke-width="4.8"/>
<text class="ser sk0" transform="translate(1238.5,1279.6) scale(0.95,1)" font-size="38.5">00</text>
<line x1="1278.9" y1="1230.1" x2="1278.9" y2="1254.7" stroke="#000" stroke-width="4.8"/>
<line x1="1322.0" y1="1230.1" x2="1322.0" y2="1254.7" stroke="#000" stroke-width="4.8"/>
<text class="ser sk0" transform="translate(1324.6,1279.6) scale(0.95,1)" font-size="38.5">02</text>
<line x1="1365.0" y1="1230.1" x2="1365.0" y2="1254.7" stroke="#000" stroke-width="4.8"/>
<line x1="1408.0" y1="1230.1" x2="1408.0" y2="1254.7" stroke="#000" stroke-width="4.8"/>
<text class="ser sk0" transform="translate(1410.6,1279.6) scale(0.95,1)" font-size="38.5">04</text>
<line x1="1451.0" y1="1230.1" x2="1451.0" y2="1254.7" stroke="#000" stroke-width="4.8"/>
<line x1="1494.0" y1="1230.1" x2="1494.0" y2="1254.7" stroke="#000" stroke-width="4.8"/>
<text class="ser sk0" transform="translate(1496.6,1279.6) scale(0.95,1)" font-size="38.5">06</text>
<line x1="1537.1" y1="1230.1" x2="1537.1" y2="1254.7" stroke="#000" stroke-width="4.8"/>
<line x1="1580.1" y1="1230.1" x2="1580.1" y2="1254.7" stroke="#000" stroke-width="4.8"/>
<text class="ser sk0" transform="translate(1582.7,1279.6) scale(0.95,1)" font-size="38.5">08</text>
<line x1="1623.1" y1="1230.1" x2="1623.1" y2="1254.7" stroke="#000" stroke-width="4.8"/>
<line x1="1666.1" y1="1230.1" x2="1666.1" y2="1254.7" stroke="#000" stroke-width="4.8"/>
<text class="ser sk0" transform="translate(1668.7,1279.6) scale(0.95,1)" font-size="38.5">10</text>
<line x1="1709.1" y1="1230.1" x2="1709.1" y2="1254.7" stroke="#000" stroke-width="4.8"/>
<line x1="1752.2" y1="1230.1" x2="1752.2" y2="1254.7" stroke="#000" stroke-width="4.8"/>
<text class="ser sk0" transform="translate(1754.8,1279.6) scale(0.95,1)" font-size="38.5">12</text>
<line x1="1795.2" y1="1230.1" x2="1795.2" y2="1254.7" stroke="#000" stroke-width="4.8"/>
<line x1="1838.2" y1="1230.1" x2="1838.2" y2="1254.7" stroke="#000" stroke-width="4.8"/>
<text class="ser sk0" transform="translate(1840.8,1279.6) scale(0.95,1)" font-size="38.5">14</text>
<line x1="1881.2" y1="1230.1" x2="1881.2" y2="1254.7" stroke="#000" stroke-width="4.8"/>
<line x1="1924.2" y1="1230.1" x2="1924.2" y2="1254.7" stroke="#000" stroke-width="4.8"/>
<text class="ser sk0" transform="translate(1926.8,1279.6) scale(0.95,1)" font-size="38.5">16</text>
<line x1="1967.3" y1="1230.1" x2="1967.3" y2="1254.7" stroke="#000" stroke-width="4.8"/>
<line x1="2010.3" y1="1230.1" x2="2010.3" y2="1254.7" stroke="#000" stroke-width="4.8"/>
<text class="ser sk0" transform="translate(2012.9,1279.6) scale(0.95,1)" font-size="38.5">18</text>
<line x1="2053.3" y1="1230.1" x2="2053.3" y2="1254.7" stroke="#000" stroke-width="4.8"/>
<line x1="2096.3" y1="1230.1" x2="2096.3" y2="1254.7" stroke="#000" stroke-width="4.8"/>
<text class="ser sk0" transform="translate(2098.9,1279.6) scale(0.95,1)" font-size="38.5">20</text>
<line x1="2139.3" y1="1230.1" x2="2139.3" y2="1254.7" stroke="#000" stroke-width="4.8"/>
<line x1="2182.4" y1="1230.1" x2="2182.4" y2="1254.7" stroke="#000" stroke-width="4.8"/>
<text class="ser sk0" transform="translate(2185.0,1279.6) scale(0.95,1)" font-size="38.5">22</text>
<line x1="2225.4" y1="1230.1" x2="2225.4" y2="1254.7" stroke="#000" stroke-width="4.8"/>
<line x1="2268.4" y1="1230.1" x2="2268.4" y2="1254.7" stroke="#000" stroke-width="4.8"/>
<text class="ser sk0" transform="translate(2271.0,1279.6) scale(0.95,1)" font-size="38.5">24</text>
<line x1="2311.4" y1="1230.1" x2="2311.4" y2="1254.7" stroke="#000" stroke-width="4.8"/>
<line x1="2354.4" y1="1230.1" x2="2354.4" y2="1254.7" stroke="#000" stroke-width="4.8"/>
<text class="ser sk0" transform="translate(2357.0,1279.6) scale(0.95,1)" font-size="38.5">26</text>
<line x1="2397.5" y1="1230.1" x2="2397.5" y2="1254.7" stroke="#000" stroke-width="4.8"/>
<rect x="127.5" y="60.0" width="824.0" height="187.65" fill="#fff" stroke="#000" stroke-width="3.3" stroke-linejoin="round"/>
<g class="san" font-weight="bold" font-size="47.2" text-anchor="middle">
<text transform="translate(538.8,123.7) scale(1,1.035)">NFIB SMALL BUSINESS SURVEY:</text>
<text transform="translate(538.8,170.5) scale(1,1.035)">PRICING</text>
<text transform="translate(538.8,217.6) scale(1,1.035)">(percent)</text>
</g>
<line x1="902.5" y1="317.7" x2="979" y2="317.7" stroke="#E83323" stroke-width="5.0" stroke-linecap="round"/>
<line x1="902.5" y1="419.1" x2="979" y2="419.1" stroke="#0000FF" stroke-width="5.0" stroke-linecap="round"/>
<g class="san sk2" font-size="42.45">
<text transform="translate(1003.6,333.0) scale(1,1.041)">Planning to Raise</text>
<text transform="translate(1003.6,375.7) scale(1,1.041)">Average Selling Prices* (47.0)</text>
<text transform="translate(1003.6,434.8) scale(1,1.041)">Raising</text>
<text transform="translate(1003.6,476.7) scale(1,1.041)">Average Selling Prices* (72.0)</text>
</g>
<text class="san" x="2209.8" y="238.9" font-size="38.4" style="fill:#0000FF;stroke:#0000FF;stroke-width:0.3">May</text>
<text class="ser" x="140.4" y="1215.3" font-size="41.5" font-style="italic" stroke="#000" stroke-width="0.55">yardeni.com</text>
<g class="ser sk" font-size="37.6">
<text x="73" y="1362.1">*</text>
<text x="116.5" y="1362.1">First month of every quarter from 1974 to 1986, then monthly.</text>
<text x="116.5" y="1399.8">Note: Shaded areas are recessions according to the National Bureau of Economic Research.</text>
<text x="116.5" y="1437.2">Source: National Federation of Independent Business.</text></g>
</svg></body></html>
